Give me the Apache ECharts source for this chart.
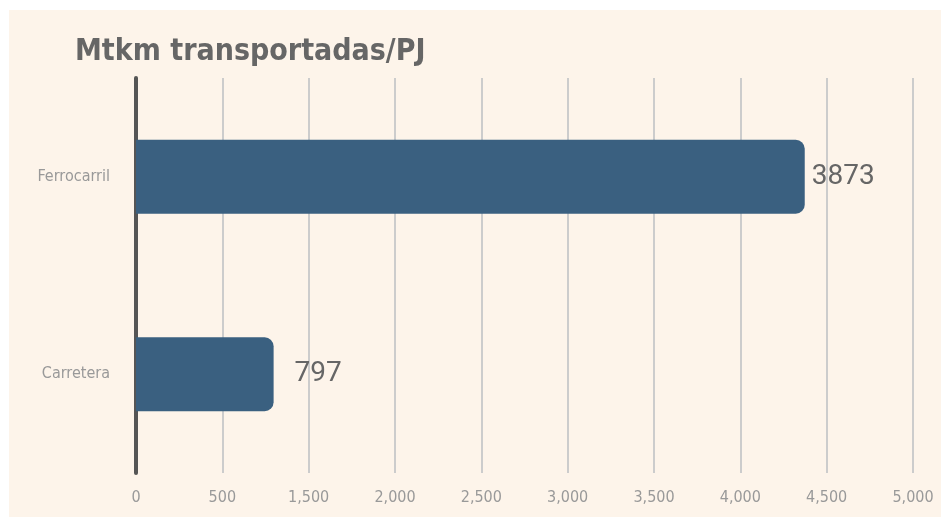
<!DOCTYPE html>
<html>
<head>
<meta charset="utf-8">
<script src="https://cdn.jsdelivr.net/npm/echarts@6/dist/echarts.min.js"></script>
<style>
  html, body { margin: 0; padding: 0; background: #ffffff; }
  #chart { position: absolute; left: 9px; top: 10px; width: 932px; height: 507px; }
</style>
</head>
<body>
<div id="chart"></div>
<script>
// Data
const categories = ['Carretera', 'Ferrocarril']
const values = [797, 3873]
// Tick labels as printed on the original axis
const tickLabels = ['0', '500', '1,500', '2,000', '2,500', '3,000', '3,500', '4,000', '4,500', '5,000']

const chart = echarts.init(document.getElementById('chart'))

const condensed = '"DejaVu Sans Condensed", "Liberation Sans Narrow", sans-serif'

const options = {
    backgroundColor: '#fdf4ea',
    title: {
        text: 'Mtkm transportadas/PJ',
        left: 61,
        top: 22,
        textStyle: {
            fontFamily: condensed,
            fontWeight: 'bold',
            fontSize: 30,
            color: '#666666'
        }
    },
    grid: { left: 127, right: 28, top: 68, bottom: 44 },
    xAxis: {
        type: 'value',
        min: 0,
        max: 4500,
        interval: 500,
        axisLine: { show: false },
        axisTick: { show: false },
        splitLine: { lineStyle: { color: '#cccccc', width: 2 } },
        axisLabel: {
            margin: 17,
            fontFamily: condensed,
            fontSize: 16,
            color: '#999999',
            formatter: (v, i) => tickLabels[i]
        }
    },
    yAxis: {
        type: 'category',
        data: categories,
        axisLine: { lineStyle: { color: '#555555', width: 4, cap: 'round' } },
        axisTick: { show: false },
        axisLabel: {
            margin: 26,
            fontFamily: condensed,
            fontSize: 16,
            color: '#999999'
        }
    },
    series: [{
        type: 'bar',
        barWidth: 74,
        data: values.map((v, i) => ({
            value: v,
            label: { distance: i === 0 ? 21 : 7 }
        })),
        itemStyle: { color: '#3a6080', borderRadius: [0, 9, 9, 0] },
        label: {
            show: true,
            position: 'right',
            fontFamily: 'Roboto, sans-serif',
            fontSize: 28,
            color: '#666666'
        }
    }]
}
chart.setOption(options)
</script>
</body>
</html>
